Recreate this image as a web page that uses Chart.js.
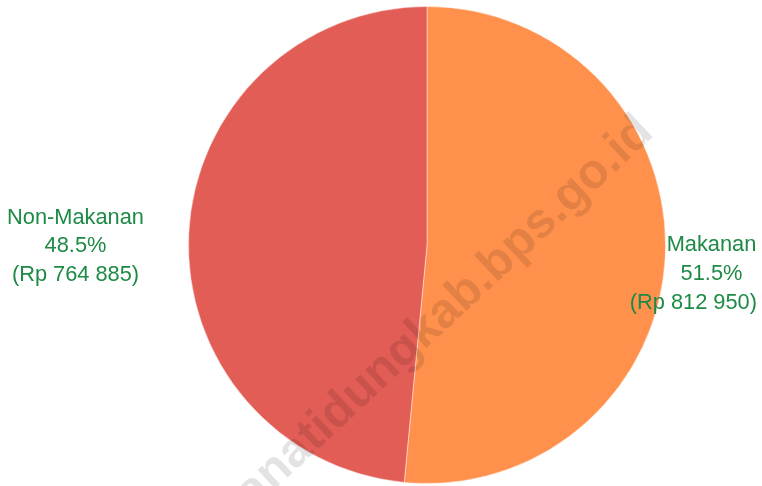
<!DOCTYPE html>
<html>
<head>
<meta charset="utf-8">
<script src="https://cdn.jsdelivr.net/npm/chart.js@4.4.1/dist/chart.umd.min.js"></script>
<style>
  html, body { margin: 0; padding: 0; background: #ffffff; }
  #wrap { width: 762px; height: 486px; position: relative; }
</style>
</head>
<body>
<div id="wrap"><canvas id="pengeluaranChart"></canvas></div>
<script>
// Données du graphique
const categories = ['Makanan', 'Non-Makanan'];
const values = [812950, 764885];
const percentLabels = ['51.5%', '48.5%'];
const rupiahLabels = ['(Rp 812 950)', '(Rp 764 885)'];
const sliceColors = ['#ff914d', '#e35d57'];

const watermarkText = 'tanatidungkab.bps.go.id';

// Étiquettes à l'extérieur des parts
const outsideLabels = {
    id: 'outsideLabels',
    afterDatasetsDraw(chart) {
        const ctx = chart.ctx;
        const meta = chart.getDatasetMeta(0);
        const maxRight = chart.width - 5;
        ctx.save();
        ctx.font = '21.8px "Liberation Sans", Arial, sans-serif';
        ctx.fillStyle = '#1d8a45';
        ctx.textAlign = 'center';
        ctx.textBaseline = 'middle';
        meta.data.forEach((arc, i) => {
            const mid = (arc.startAngle + arc.endAngle) / 2;
            const right = Math.cos(mid) >= 0;
            const cx = right ? arc.x + arc.outerRadius + 46 : arc.x - arc.outerRadius - 113;
            const cy = right ? arc.y + 29 : arc.y + 1;
            const step = right ? 29 : 28.5;
            const lines = [categories[i], percentLabels[i], rupiahLabels[i]];
            lines.forEach((txt, k) => {
                // garder le texte dans le canvas
                const w = ctx.measureText(txt).width;
                const x = Math.min(cx, maxRight - w / 2);
                ctx.fillText(txt, x, cy + (k - 1) * step);
            });
        });
        ctx.restore();
    }
};

// Filigrane
const watermark = {
    id: 'watermark',
    afterDraw(chart) {
        const ctx = chart.ctx;
        ctx.save();
        ctx.translate(448, 328);
        ctx.rotate(-43 * Math.PI / 180);
        ctx.font = 'bold 49px "Liberation Sans", Arial, sans-serif';
        ctx.fillStyle = 'rgba(0, 0, 0, 0.11)';
        ctx.textAlign = 'center';
        ctx.textBaseline = 'alphabetic';
        ctx.fillText(watermarkText, 0, 0);
        ctx.restore();
    }
};

const ctx = document.getElementById('pengeluaranChart').getContext('2d');
const pengeluaranChart = new Chart(ctx, {
    type: 'pie',
    data: {
        labels: categories,
        datasets: [{
            data: values,
            backgroundColor: sliceColors,
            borderColor: 'rgba(255,255,255,0.45)',
            borderWidth: 1
        }]
    },
    options: {
        responsive: true,
        maintainAspectRatio: false,
        animation: false,
        layout: {
            padding: { left: 92, right: 0, top: 6, bottom: 2 }
        },
        plugins: {
            legend: { display: false },
            tooltip: { enabled: false }
        }
    },
    plugins: [outsideLabels, watermark]
});
</script>
</body>
</html>
